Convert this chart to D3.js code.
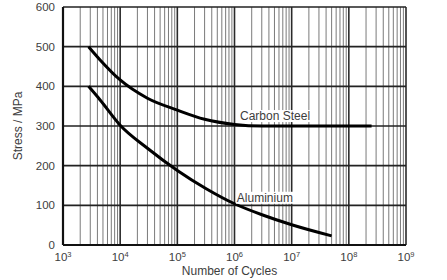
<!DOCTYPE html>
<html>
<head>
<meta charset="utf-8">
<script src="https://cdn.jsdelivr.net/npm/d3@7"></script>
<style>
  body { margin: 0; background: #fff; }
  text { font-family: "Liberation Sans", Arial, sans-serif; fill: #3d3d3d; }
</style>
</head>
<body>
<div id="chart"></div>
<script>
// data
var steelCycles = [2800, 4500, 1e4, 3e4, 1e5, 3e5, 1e6, 3e6, 1e7, 2.5e8]
var steelStress = [500, 466, 416, 370, 340, 317, 304, 300, 300, 300]
var aluCycles = [2800, 4500, 1e4, 3e4, 1e5, 3.2e5, 1e6, 3.2e6, 1e7, 5e7]
var aluStress = [400, 365, 302, 244, 188, 142, 104, 75, 51, 23]
var yTicks = [0, 100, 200, 300, 400, 500, 600]
var xExponents = [3, 4, 5, 6, 7, 8, 9]

var W = 447, H = 280
var margin = { top: 7, right: 41, bottom: 35, left: 63 }
var w = W - margin.left - margin.right
var h = H - margin.top - margin.bottom

var svg = d3.select('#chart').append('svg')
    .attr('width', W)
    .attr('height', H)
  .append('g')
    .attr('transform', 'translate(' + margin.left + ',' + margin.top + ')')

var xScale = d3.scaleLog().domain([1e3, 1e9]).range([0, w])
var yScale = d3.scaleLinear().domain([0, 600]).range([h, 0])

// minor vertical grid (2..9 in each decade)
var minor = []
xExponents.slice(0, -1).forEach(function (e) {
  for (var m = 2; m <= 9; m++) minor.push(m * Math.pow(10, e))
})
svg.selectAll('.minor')
    .data(minor)
    .enter()
  .append('line')
    .attr('class', 'minor')
    .attr('x1', function (d) { return xScale(d) })
    .attr('x2', function (d) { return xScale(d) })
    .attr('y1', 0)
    .attr('y2', h)
    .attr('stroke', '#7a7a7a')
    .attr('stroke-width', 1)

// decade lines
svg.selectAll('.major')
    .data(xExponents)
    .enter()
  .append('line')
    .attr('class', 'major')
    .attr('x1', function (d) { return xScale(Math.pow(10, d)) })
    .attr('x2', function (d) { return xScale(Math.pow(10, d)) })
    .attr('y1', 0)
    .attr('y2', h)
    .attr('stroke', '#2a2a2a')
    .attr('stroke-width', 1.6)

// horizontal grid
svg.selectAll('.hgrid')
    .data(yTicks)
    .enter()
  .append('line')
    .attr('class', 'hgrid')
    .attr('x1', 0)
    .attr('x2', w)
    .attr('y1', function (d) { return yScale(d) })
    .attr('y2', function (d) { return yScale(d) })
    .attr('stroke', '#222')
    .attr('stroke-width', 1.6)

// frame
svg.append('line').attr('x1', 0).attr('x2', 0).attr('y1', 0).attr('y2', h)
    .attr('stroke', '#111').attr('stroke-width', 2.2)
svg.append('line').attr('x1', 0).attr('x2', w).attr('y1', h).attr('y2', h)
    .attr('stroke', '#111').attr('stroke-width', 2.2)

// y tick labels
svg.selectAll('.ylab')
    .data(yTicks)
    .enter()
  .append('text')
    .attr('class', 'ylab')
    .attr('x', -8)
    .attr('y', function (d) { return yScale(d) })
    .attr('dy', '0.35em')
    .style('text-anchor', 'end')
    .style('font-size', '11.5px')
    .text(function (d) { return d })

// x tick labels 10^n
var xl = svg.selectAll('.xlab')
    .data(xExponents)
    .enter()
  .append('text')
    .attr('class', 'xlab')
    .attr('x', function (d) { return xScale(Math.pow(10, d)) })
    .attr('y', h + 16)
    .style('text-anchor', 'middle')
    .style('font-size', '11.5px')
xl.append('tspan').text('10')
xl.append('tspan')
    .attr('dy', -4)
    .style('font-size', '7.5px')
    .text(function (d) { return d })

// axis titles
svg.append('text')
    .attr('x', w / 2 - 5)
    .attr('y', h + 30)
    .style('text-anchor', 'middle')
    .style('font-size', '12px')
    .text('Number of Cycles')

svg.append('text')
    .attr('transform', 'translate(' + (-41) + ',' + (h / 2) + ') rotate(-90)')
    .style('text-anchor', 'middle')
    .style('font-size', '12px')
    .text('Stress / MPa')

// curves
var line = d3.line()
    .x(function (d) { return xScale(d[0]) })
    .y(function (d) { return yScale(d[1]) })
    .curve(d3.curveMonotoneX)

var steel = d3.zip(steelCycles, steelStress)
var alu = d3.zip(aluCycles, aluStress)

svg.append('path')
    .datum(steel)
    .attr('d', line)
    .attr('fill', 'none')
    .attr('stroke', '#000')
    .attr('stroke-width', 3)
svg.append('path')
    .datum(alu)
    .attr('d', line)
    .attr('fill', 'none')
    .attr('stroke', '#000')
    .attr('stroke-width', 3)

// labels with white backing
function curveLabel(txt, cx, val) {
  var t = svg.append('text')
      .attr('x', xScale(cx))
      .attr('y', yScale(val))
      .style('font-size', '12px')
      .text(txt)
  var b = t.node().getBBox()
  svg.insert('rect', function () { return t.node() })
      .attr('x', b.x - 1).attr('y', b.y + 1)
      .attr('width', b.width + 2).attr('height', b.height - 2)
      .attr('fill', '#fff')
}
curveLabel('Carbon Steel', 1.25e6, 315)
curveLabel('Aluminium', 1.1e6, 109)
</script>
</body>
</html>
